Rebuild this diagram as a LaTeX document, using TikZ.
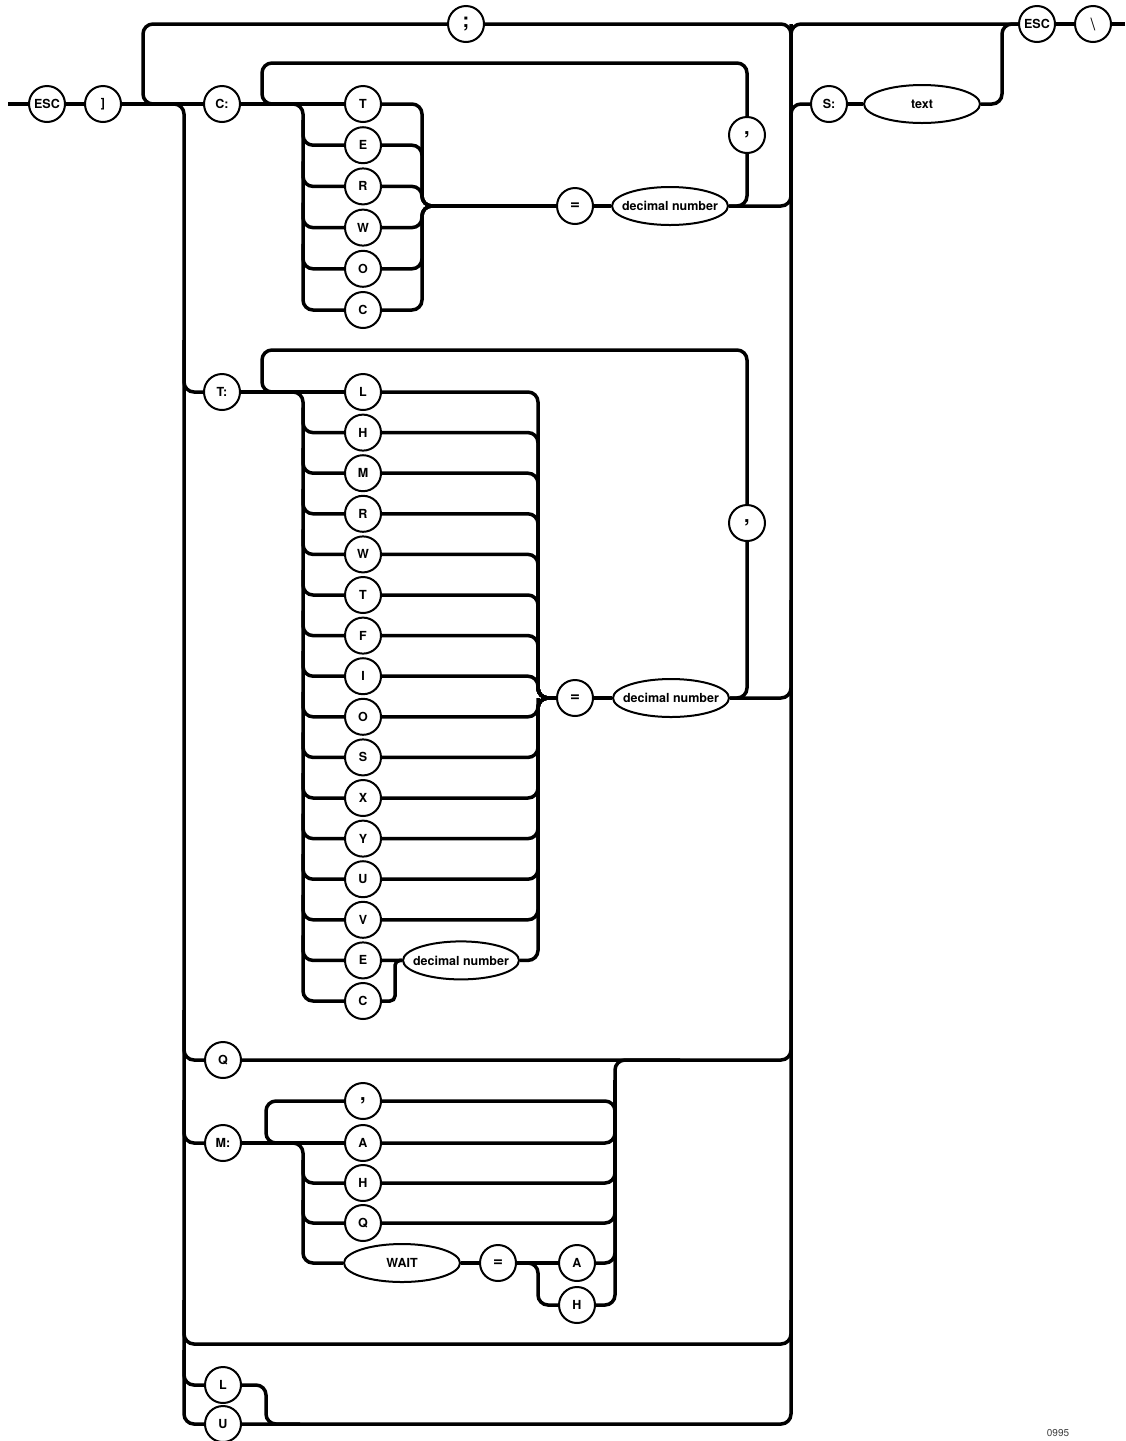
\documentclass[tikz,border=0pt]{standalone}
\usepackage{fontspec}
\setmainfont{TeX Gyre Heros}
\usetikzlibrary{shapes.geometric}
\newcommand{\ntlabel}[1]{\makebox[0pt]{#1}}
\tikzset{
  rail/.style={line width=3.5pt, rounded corners=10pt},
  term/.style={circle, draw, line width=2pt, fill=white, minimum size=36pt, inner sep=0pt,
    font=\fontsize{12.5}{14}\selectfont\bfseries},
  punct/.style={term, font=\fontsize{20}{20}\selectfont\bfseries},
  nonterm/.style={ellipse, draw, line width=2pt, fill=white, minimum width=116pt,
    minimum height=38pt, inner sep=0pt, font=\fontsize{12.5}{14}\selectfont\bfseries},
}
\begin{document}
\begin{tikzpicture}[x=1pt,y=-1pt]
\useasboundingbox (0,0) rectangle (1125,1441);
% ---------- nodes ----------
\coordinate (start) at (8,104);
\node[term] (esc1) at (47,104) {ESC};
\node[term] (rb) at (103,104) {]};
\node[punct] (semi) at (466,24) {;};
\node[term] (cc) at (222,104) {C:};
\node[term] (tc) at (222,392) {T:};
\node[term] (qc) at (223,1060) {Q};
\node[term] (mc) at (223,1143) {M:};
\node[term] (lc) at (223,1385) {L};
\node[term] (uc) at (223,1424) {U};
\node[term] (sc) at (829,104) {S:};
\node[nonterm] (txt) at (922,104) {\ntlabel{text}};
\node[term] (esc2) at (1037,24) {ESC};
\node[term, font=\fontsize{17}{17}\selectfont] (bs) at (1093,24) {\textbackslash};
\coordinate (exit) at (1125,24);
% C: block
\foreach \l [count=\i from 0] in {T,E,R,W,O,C}
  \node[term] (c\i) at (363,{104+41.2*\i}) {\l};
\node[punct] (comma1) at (747,135) {,};
\node[term, font=\fontsize{17}{17}\selectfont\bfseries] (eq1) at (575,206) {=};
\node[nonterm] (dn1) at (670,206) {\ntlabel{decimal number}};
% T: block
\foreach \l [count=\i from 0] in {L,H,M,R,W,T,F,I,O,S,X,Y,U,V,E,C}
  \node[term] (t\i) at (363,{392+40.6*\i}) {\l};
\node[punct] (comma2) at (747,523) {,};
\node[term, font=\fontsize{17}{17}\selectfont\bfseries] (eq2) at (575,698) {=};
\node[nonterm] (dn2) at (671,698) {\ntlabel{decimal number}};
\node[nonterm] (dn3) at (461,960.4) {\ntlabel{decimal number}};
% M: block
\node[punct] (mcomma) at (363,1101) {,};
\node[term] (ma) at (363,1143) {A};
\node[term] (mh) at (363,1183) {H};
\node[term] (mq) at (363,1223) {Q};
\node[nonterm] (wait) at (402,1263) {\ntlabel{WAIT}};
\node[term, font=\fontsize{17}{17}\selectfont\bfseries] (eq3) at (498,1263) {=};
\node[term] (ma2) at (577,1263) {A};
\node[term] (mh2) at (577,1305) {H};
\node[font=\fontsize{10}{12}\selectfont, text=black!75, inner sep=0pt] (code) at (1058,1433) {0995};
% ---------- connectors ----------
\draw[rail] (start) -- (esc1.west);
\draw[rail] (esc1.east) -- (rb.west);
\draw[rail] (rb.east) -- (cc.west);
% repeat loop with ;
\draw[rail] (791,200) |- (semi.east);
\draw[rail] (semi.west) -| (143,104) -- (170,104);
% left bus
\draw[rail] (150,104) -| (184,1424) -- (uc.west);
\draw[rail] (184,340) |- (tc.west);
\draw[rail] (184,1010) |- (qc.west);
\draw[rail] (184,1100) |- (mc.west);
\draw[rail] (184,1300) |- (600,1344) -| (791,1300);
\draw[rail] (184,1350) |- (lc.west);
% right bus
\draw[rail] (uc.east) -| (791,24);
\draw[rail] (lc.east) -| (266,1424) -- (300,1424);
\draw[rail] (qc.east) -| (791,1000);
\draw[rail] (791,200) |- (esc2.west);
\draw[rail] (791,200) |- (sc.west);
\draw[rail] (sc.east) -- (txt.west);
\draw[rail] (txt.east) -| (1002,24) -- (esc2.west);
\draw[rail] (esc2.east) -- (bs.west);
\draw[rail] (bs.east) -- (exit);
% C: block
\draw[rail] (cc.east) -- (c0.west);
\draw[rail] (comma1.north) |- (262,63) -- (262,104) -- (285,104);
\draw[rail] (cc.east) -| (303,310) -- (c5.west);
\foreach \i in {1,...,4}
  \draw[rail] (303,{104+41.2*\i-25}) |- (c\i.west);
\foreach \i in {0,...,5}
  \draw[rail] (c\i.east) -| (422,206) -- (eq1.west);
\draw[rail] (eq1.east) -- (dn1.west);
\draw[rail] (comma1.south) |- (dn1.east);
\draw[rail] (dn1.east) -| (791,150);
% T: block
\draw[rail] (tc.east) -- (t0.west);
\draw[rail] (comma2.north) |- (262,350) -- (262,392) -- (285,392);
\draw[rail] (tc.east) -| (303,1001) -- (t15.west);
\foreach \i in {1,...,14}
  \draw[rail] (303,{392+40.6*\i-25}) |- (t\i.west);
\foreach \i in {0,...,13}
  \draw[rail] (t\i.east) -| (538,698) -- (eq2.west);
\draw[rail] (t14.east) -- (dn3.west);
\draw[rail, rounded corners=5pt] (t15.east) -| (395,960.4) -- (dn3.west);
\draw[rail] (dn3.east) -| (538,698);
\draw[rail] (eq2.east) -- (dn2.west);
\draw[rail] (comma2.south) |- (dn2.east);
\draw[rail] (dn2.east) -| (791,600);
% M: block
\draw[rail] (mc.east) -- (ma.west);
\draw[rail] (mcomma.west) -| (266,1143) -- (290,1143);
\draw[rail] (mc.east) -| (303,1263) -- (wait.west);
\draw[rail] (303,1160) |- (mh.west);
\draw[rail] (303,1200) |- (mq.west);
\draw[rail] (wait.east) -- (eq3.west);
\draw[rail] (eq3.east) -- (ma2.west);
\draw[rail] (520,1263) -| (538,1305) -- (mh2.west);
\draw[rail] (mcomma.east) -| (615,1200);
\draw[rail] (ma.east) -| (615,1080);
\draw[rail] (mh.east) -| (615,1080);
\draw[rail] (mq.east) -| (615,1080);
\draw[rail] (ma2.east) -| (615,1080);
\draw[rail] (mh2.east) -| (615,1060) -- (680,1060);
\end{tikzpicture}
\end{document}
